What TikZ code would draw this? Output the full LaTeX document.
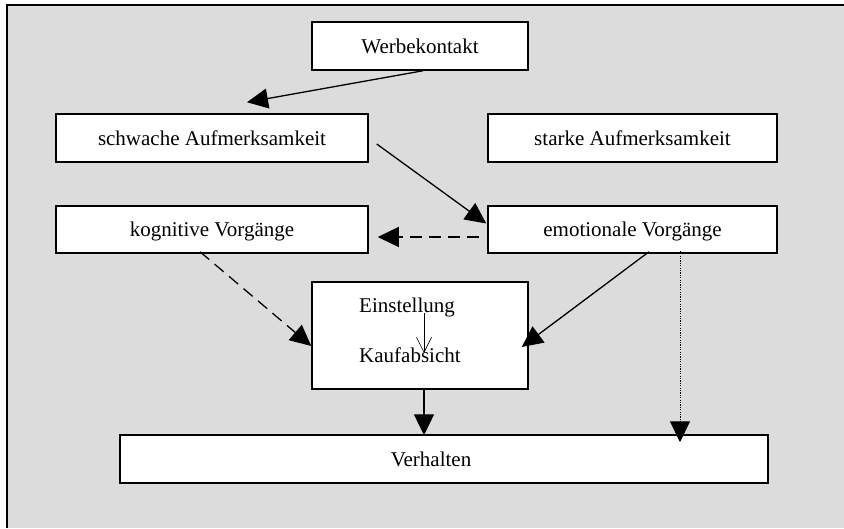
\documentclass[tikz,border=0pt]{standalone}
\usepackage{fontspec}
\setmainfont{Liberation Serif}
\usetikzlibrary{arrows.meta,calc}
\definecolor{panel}{RGB}{220,220,220}
\begin{document}
\begin{tikzpicture}[x=1pt,y=-1pt,
  label/.style={font=\fontsize{21}{25}\selectfont, inner sep=0pt},
  box/.style={label, draw=black, line width=1.5pt, fill=white,
              text height=14pt, text depth=0pt, minimum height=48pt},
  head/.style={-{Triangle[length=21pt,width=20pt]}},
  link/.style={head, line width=1.3pt},
  dlink/.style={link, dash pattern=on 12pt off 7pt},
  olink/.style={head, line width=1pt, dash pattern=on 1.2pt off 1.2pt},
  thin/.style={line width=0.6pt, -{Straight Barb[length=15pt,width=15pt,line width=0.6pt]}}
]
\useasboundingbox (0,0) rectangle (844,528);

% panel and its frame
\fill[panel] (7,5) rectangle (844,528);
\draw[line width=2pt] (7,528) -- (7,5) -- (844,5);

% boxes
\node[box, minimum width=216pt] (werbe)    at (420,46)    {Werbekontakt};
\node[box, minimum width=312pt] (schwach)  at (212,138)   {schwache Aufmerksamkeit};
\node[box, minimum width=289pt] (stark)    at (632.5,138) {starke Aufmerksamkeit};
\node[box, minimum width=312pt, minimum height=47pt] (kogn) at (212,229.5) {kognitive Vorgänge};
\node[box, minimum width=289pt, minimum height=47pt] (emo)  at (632.5,229.5) {emotionale Vorgänge};
\node[box, minimum width=216pt, minimum height=107pt] (einst) at (420,335.5) {};
\node[box, minimum width=648pt] (verh)     at (444,459)   {\hspace*{-26pt}Verhalten};

% texts inside the attitude box
\node[label, anchor=base west] (einstT) at (359,312) {Einstellung};
\node[label, anchor=base west] (kaufT)  at (359,362) {Kaufabsicht};
\coordinate (ia) at (424,313);
\coordinate (ib) at (424,353);
\draw[thin] (ia) -- (ib);

% connectors
\draw[link]  ([xshift=3pt]werbe.south) -- ([xshift=35pt,yshift=11pt]schwach.north);
\draw[link]  ([xshift=8pt,yshift=-6pt]schwach.east) -- ([xshift=-1pt,yshift=6pt]emo.west);
\draw[dlink] ([xshift=-8pt,yshift=-7.5pt]emo.west) -- ([xshift=9pt,yshift=-7.5pt]kogn.east);
\draw[dlink] ([xshift=-12pt,yshift=2pt]kogn.south) -- ([yshift=-10.5pt]einst.west);
\draw[link]  ([xshift=16.5pt,yshift=2pt]emo.south) -- ([xshift=-7pt,yshift=-11.5pt]einst.east);
\draw[olink] ([xshift=47.5pt,yshift=3pt]emo.south) -- ([xshift=236pt,yshift=-8pt]verh.north);
\draw[link]  ([xshift=4pt]einst.south) -- ([xshift=-20pt,yshift=-1pt]verh.north);
\end{tikzpicture}
\end{document}
